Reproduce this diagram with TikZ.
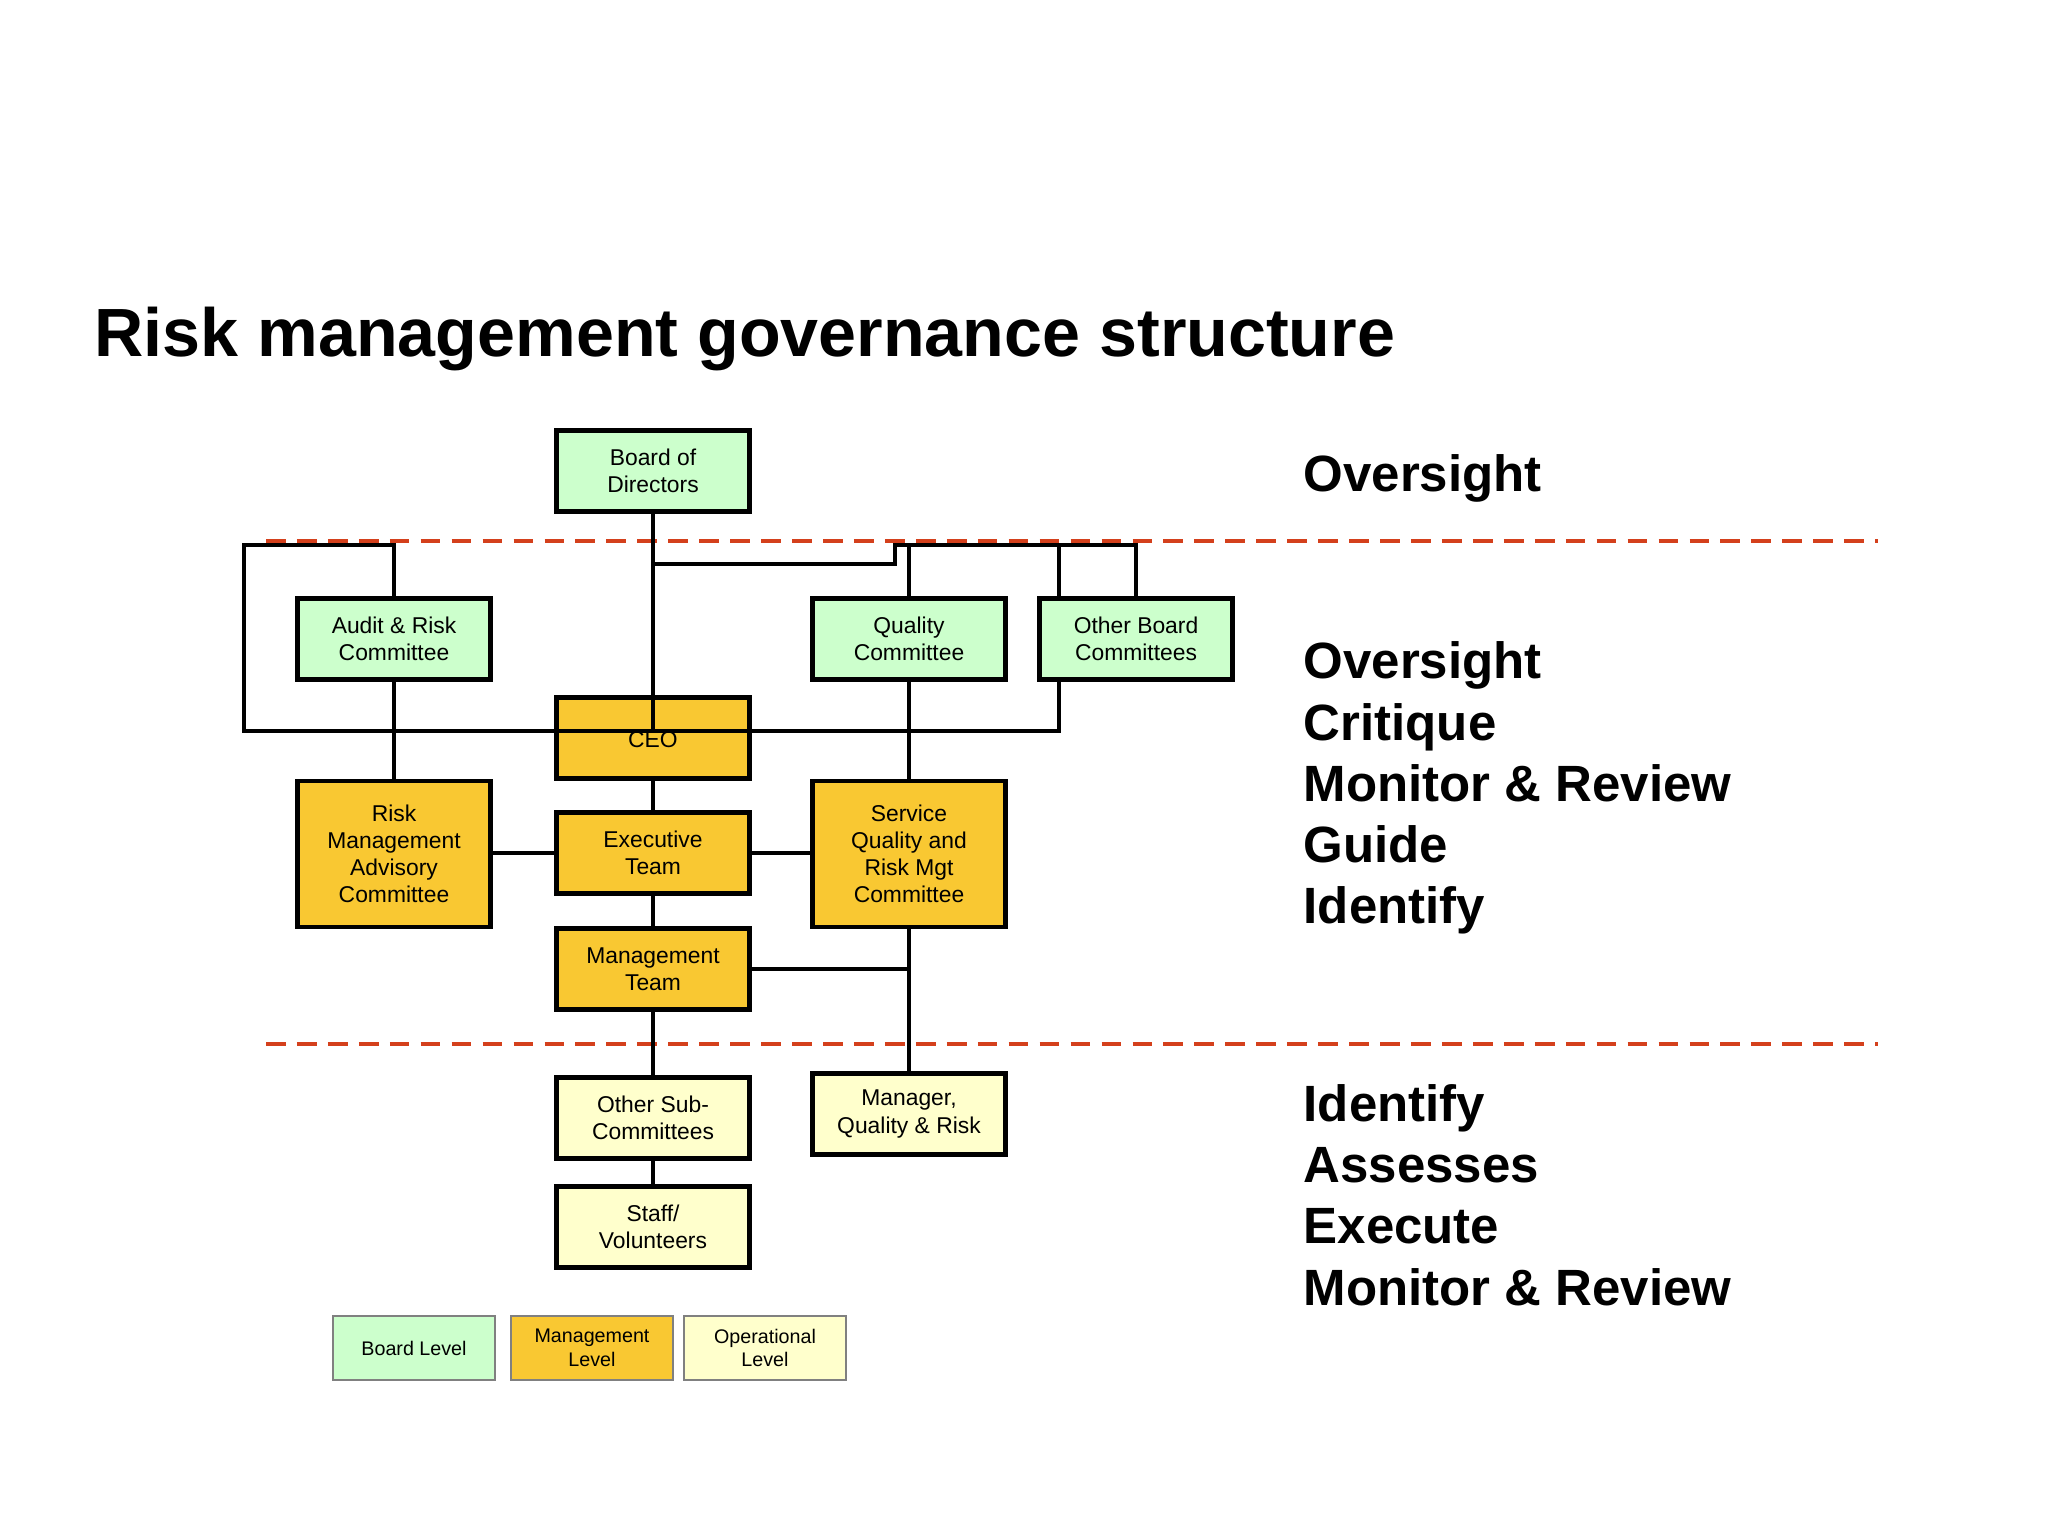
\documentclass[tikz,border=0pt]{standalone}
\usepackage{fontspec}
\setmainfont{Liberation Sans}
\usetikzlibrary{positioning}

\definecolor{boardgreen}{HTML}{CCFFCC}
\definecolor{mgmtorange}{HTML}{F9C832}
\definecolor{opyellow}{HTML}{FFFFCC}
\definecolor{levelred}{HTML}{D4401C}

\begin{document}
\begin{tikzpicture}[x=0.01cm,y=-0.01cm]

	\tikzstyle{block} = [rectangle, draw, line width=1.3pt, inner sep=0pt, align=center,
		minimum width=1.93cm, minimum height=0.81cm, font=\fontsize{6.5}{7.7}\selectfont]
	\tikzstyle{board} = [block, fill=boardgreen]
	\tikzstyle{mgmt} = [block, fill=mgmtorange]
	\tikzstyle{oper} = [block, fill=opyellow]
	\tikzstyle{tall} = [minimum height=1.46cm]
	\tikzstyle{legend} = [rectangle, draw=gray, line width=0.4pt, align=center,
		minimum width=1.62cm, minimum height=0.64cm, font=\fontsize{5.6}{6.7}\selectfont]
	\tikzstyle{line} = [draw, line width=1.25pt]
	\tikzstyle{levelline} = [draw=levelred, line width=1.25pt, dash pattern=on 5.6pt off 3.2pt]
	\tikzstyle{role} = [anchor=west, align=left, inner sep=0pt,
		font=\fontsize{14.5}{17.4}\selectfont\bfseries]

	\useasboundingbox (0,0) rectangle (2048,1536);

	\node [anchor=base west, inner sep=0pt, font=\fontsize{19.4}{23}\selectfont\bfseries]
		(title) at (94,356) {Risk management governance structure};

	% Level separators
	\path [levelline] (266,541) -- (1878,541);
	\path [levelline] (266,1044) -- (1878,1044);

	% Place nodes
	\node [board] at (653,471) (brd) {Board of\\Directors};
	\node [board] at (394,639) (audit) {Audit \& Risk\\Committee};
	\node [board] at (909,639) (qual) {Quality\\Committee};
	\node [board] at (1136,639) (other) {Other Board\\Committees};

	\node [mgmt] at (653,738) (ceo) {};
	\node [mgmt, tall] at (394,854) (rmac) {Risk\\Management\\Advisory\\Committee};
	\node [mgmt] at (653,853) (exec) {Executive\\Team};
	\node [mgmt, tall] at (909,854) (sqrm) {Service\\Quality and\\Risk Mgt\\Committee};
	\node [mgmt] at (653,969) (mgt) {Management\\Team};

	\node [oper] at (653,1118) (subc) {Other Sub-\\Committees};
	\node [oper] at (909,1114) (mgr) {Manager,\\Quality \& Risk};
	\node [oper] at (653,1227) (staff) {Staff/\\Volunteers};

	% Draw edges
	\coordinate (loopTL) at (244,545);
	\coordinate (barR) at (1059,731);
	\coordinate (jog) at (895,564);
	\coordinate (topBar) at (895,545);

	\path [line] (audit.north) |- (loopTL) |- (barR) -- (barR |- other.south);
	\path [line] (brd.south) -- (brd.south |- barR);
	\path [line] (brd.south |- jog) -- (jog) -- (topBar) -| (other.north);
	\path [line] (qual.north |- topBar) -- (qual.north);
	\path [line] (barR |- topBar) -- (barR |- other.north);

	\node [font=\fontsize{6.5}{7.7}\selectfont, anchor=base] (ceotext) at (653,747) {CEO};

	\path [line] (audit) -- (rmac);
	\path [line] (qual) -- (sqrm);
	\path [line] (ceo) -- (exec);
	\path [line] (exec) -- (mgt);
	\path [line] (exec.west) -- (exec.west -| rmac.east);
	\path [line] (exec.east) -- (exec.east -| sqrm.west);
	\path [line] (mgt.east) -- (mgt.east -| sqrm.south);
	\path [line] (sqrm) -- (mgr);
	\path [line] (mgt) -- (subc);
	\path [line] (subc) -- (staff);

	% Legend
	\node [legend, fill=boardgreen] at (414,1348) (legBoard) {Board Level};
	\node [legend, fill=mgmtorange] at (592,1348) (legMgmt) {Management\\Level};
	\node [legend, fill=opyellow] at (765,1348) (legOper) {Operational\\Level};

	% Roles per level
	\node [role] at (1303,478) (roleTop) {Oversight};
	\node [role] at (1303,788) (roleMid) {Oversight\\Critique\\Monitor \& Review\\Guide\\Identify};
	\node [role] at (1303,1195) (roleLow) {Identify\\Assesses\\Execute\\Monitor \& Review};

\end{tikzpicture}
\end{document}
